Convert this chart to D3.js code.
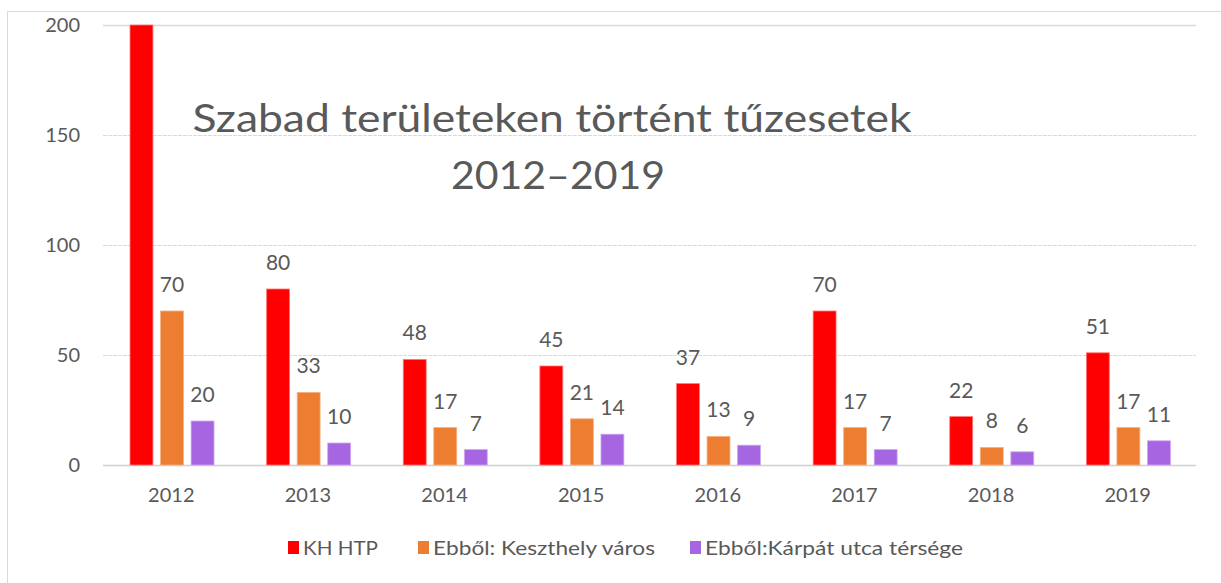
<!DOCTYPE html>
<html>
<head>
<meta charset="utf-8">
<script src="https://cdn.jsdelivr.net/npm/d3@7"></script>
<style>
  body { margin: 0; background: #fff; }
  svg { display: block; font-family: Lato, "Open Sans", sans-serif; }
</style>
</head>
<body>
<svg id="chart" width="1221" height="583"></svg>
<script>
// data
const years = ["2012", "2013", "2014", "2015", "2016", "2017", "2018", "2019"];
const seriesNames = ["KH HTP", "Ebből: Keszthely város", "Ebből:Kárpát utca térsége"];
const khHtp = [200, 80, 48, 45, 37, 70, 22, 51]; // 2012 runs off the top of the axis, no label shown
const keszthely = [70, 33, 17, 21, 13, 17, 8, 17];
const karpat = [20, 10, 7, 14, 9, 7, 6, 11];
const yTicks = [0, 50, 100, 150, 200];
const titleLines = ["Szabad területeken történt tűzesetek", "2012–2019"];

const colors = ["#ff0000", "#ed7d31", "#a666e1"];
const strokes = ["#ff7777", "#f4b183", "#cfa8f0"];
const textColor = "#595959";

const svg = d3.select("#chart");

// outer chart border
svg.append("path")
  .attr("d", "M7.5,583 V11.5 H1221")
  .attr("fill", "none")
  .attr("stroke", "#d9d9d9")
  .attr("stroke-width", 1);

const plot = { left: 103, right: 1196, top: 25, bottom: 465 };

const y = d3.scaleLinear().domain([0, 200]).range([plot.bottom, plot.top]);
const x0 = d3.scaleBand().domain(years).range([plot.left, plot.right]);
const groupW = 84;
const x1 = d3.scaleBand().domain(d3.range(3)).range([0, groupW]).paddingInner(0.25);

// gridlines
svg.append("g").selectAll("line")
  .data(yTicks)
  .join("line")
  .attr("x1", plot.left)
  .attr("x2", plot.right)
  .attr("y1", d => Math.round(y(d)) + 0.5)
  .attr("y2", d => Math.round(y(d)) + 0.5)
  .attr("stroke", d => (d === 0 ? "#d0d0d0" : "#dadada"))
  .attr("stroke-width", d => (d === 0 || d === 200 ? 1.5 : 1))
  .attr("stroke-dasharray", d => (d === 0 || d === 200 ? null : "4,1"));

// y tick labels
svg.append("g").selectAll("text")
  .data(yTicks)
  .join("text")
  .attr("x", 80)
  .attr("y", d => y(d))
  .attr("dy", "0.36em")
  .attr("text-anchor", "end")
  .attr("fill", textColor)
  .attr("font-size", 20)
  .text(d => d);

// x labels
svg.append("g").selectAll("text")
  .data(years)
  .join("text")
  .attr("x", d => x0(d) + x0.bandwidth() / 2)
  .attr("y", 502)
  .attr("text-anchor", "middle")
  .attr("fill", textColor)
  .attr("font-size", 20)
  .text(d => d);

// bars
const allSeries = [khHtp, keszthely, karpat];
const rows = [];
years.forEach((yr, i) => {
  allSeries.forEach((s, k) => rows.push({ year: yr, k: k, value: s[i] }));
});

const offset = (x0.bandwidth() - groupW) / 2 + 0.7;

svg.append("g").selectAll("rect")
  .data(rows)
  .join("rect")
  .attr("x", d => x0(d.year) + offset + x1(d.k))
  .attr("y", d => y(Math.min(d.value, 200)))
  .attr("width", x1.bandwidth())
  .attr("height", d => y(0) - y(Math.min(d.value, 200)))
  .attr("fill", d => colors[d.k])
  .attr("stroke", d => strokes[d.k])
  .attr("stroke-width", 0.8);

// value labels (skip bars clipped at the axis max)
svg.append("g").selectAll("text")
  .data(rows.filter(d => d.value < 200))
  .join("text")
  .attr("x", d => x0(d.year) + offset + x1(d.k) + x1.bandwidth() / 2)
  .attr("y", d => y(d.value) - 19)
  .attr("text-anchor", "middle")
  .attr("fill", textColor)
  .attr("font-size", 21)
  .text(d => d.value);

// title
svg.append("text")
  .attr("x", 552)
  .attr("y", 132)
  .attr("text-anchor", "middle")
  .attr("fill", textColor)
  .attr("font-size", 38)
  .attr("textLength", 719)
  .attr("lengthAdjust", "spacingAndGlyphs")
  .text(titleLines[0]);

svg.append("text")
  .attr("x", 558)
  .attr("y", 189)
  .attr("text-anchor", "middle")
  .attr("fill", textColor)
  .attr("font-size", 38)
  .attr("textLength", 214)
  .attr("lengthAdjust", "spacingAndGlyphs")
  .text(titleLines[1]);

// legend
const legendX = [288, 418, 690];
const legendW = [75, 222, 258];
const legend = svg.append("g").selectAll("g")
  .data(seriesNames)
  .join("g")
  .attr("transform", (d, i) => `translate(${legendX[i]},548)`);

legend.append("rect")
  .attr("x", 0)
  .attr("y", -7)
  .attr("width", 11)
  .attr("height", 13)
  .attr("fill", (d, i) => colors[i]);

legend.append("text")
  .attr("x", 15)
  .attr("y", 0)
  .attr("dy", "0.36em")
  .attr("fill", textColor)
  .attr("font-size", 19)
  .attr("textLength", (d, i) => legendW[i])
  .attr("lengthAdjust", "spacingAndGlyphs")
  .text(d => d);
</script>
</body>
</html>
